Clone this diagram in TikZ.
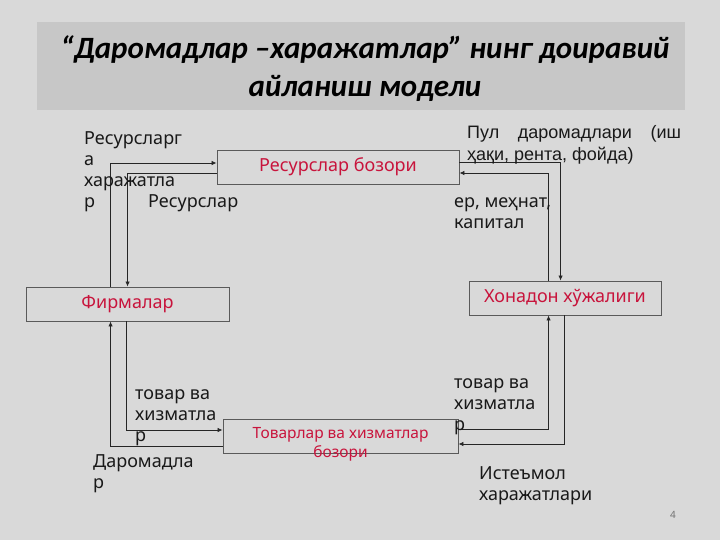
\documentclass[tikz,border=0pt]{standalone}
\usepackage{fontspec}
\setmainfont{Noto Sans}
\newfontfamily\titlefont{Carlito}
\newfontfamily\arialfont{Liberation Sans}
\usetikzlibrary{arrows.meta}
\definecolor{bg}{RGB}{217,217,217}
\definecolor{band}{RGB}{199,199,199}
\definecolor{boxline}{RGB}{90,90,90}
\definecolor{redtext}{RGB}{200,20,60}
\tikzset{
  box/.style={draw=boxline, line width=0.9pt, minimum height=34pt, inner sep=0pt,
    text=redtext, font=\fontsize{18}{21}\selectfont},
  lbl/.style={anchor=north west, inner sep=0pt, align=left, text=black!90,
    font=\fontsize{18}{21}\selectfont},
  conn/.style={draw=black!85, line width=0.8pt, -{Latex[length=5pt,width=4.5pt]}}
}
\begin{document}
\begin{tikzpicture}[x=1pt,y=-1pt]
\fill[bg] (0,0) rectangle (720,540);
\useasboundingbox (0,0) rectangle (720,540);
\fill[band] (37,22) rectangle (685,110);
\node[font=\titlefont\bfseries\itshape\fontsize{31}{38}\selectfont, align=center, inner sep=0pt] (title) at (365,69)
  {“Даромадлар –харажатлар” нинг доиравий\\айланиш модели};

% boxes
\node[box, minimum width=242pt] (rb) at (338,167) {Ресурслар бозори};
\node[box, minimum width=203pt] (firm) at (127.5,304) {Фирмалар};
\node[box, minimum width=192pt] (hh) at (565,298) {Хонадон хўжалиги};
\node[box, minimum width=235pt] (gm) at (340.5,436) {};
\node[inner sep=0pt, align=center, text=redtext, font=\fontsize{15.5}{19}\selectfont] (gmtext) at (340.5,444)
  {Товарлар ва хизматлар\\бозори};

% connectors
\draw[conn] ([xshift=85pt]firm.north west) |- ([yshift=4pt]rb.west);
\draw[conn] ([yshift=-6pt]rb.west) -| ([xshift=102pt]firm.north west);
\draw[conn] ([xshift=80pt]hh.north west) |- ([yshift=-6pt]rb.east);
\draw[conn] ([yshift=5pt]rb.east) -| ([xshift=92pt]hh.north west);
\draw[conn] ([xshift=101pt]firm.south west) |- ([yshift=6pt]gm.west);
\draw[conn] ([yshift=-10pt]gm.west) -| ([xshift=85pt]firm.south west);
\draw[conn] ([yshift=7pt]gm.east) -| ([xshift=80pt]hh.south west);
\draw[conn] ([xshift=96pt]hh.south west) |- ([yshift=-8pt]gm.east);

% labels
\node[lbl] (l1) at (84,129.3) {\strut Ресурсларг\\а\\харажатла\\р};
\node[lbl] (l2) at (148,192.3) {\strut Ресурслар};
\node[lbl, font=\arialfont\fontsize{18}{22}\selectfont] (l3) at (467,122.6)
  {\strut\hbox to 214pt{Пул\hfill даромадлари\hfill (иш}\\ҳақи, рента, фойда)};
\node[lbl] (l4) at (454,192.3) {\strut ер, меҳнат,\\капитал};
\node[lbl] (l5) at (135,384.3) {\strut товар ва\\хизматла\\р};
\node[lbl] (l6) at (93,452.3) {\strut Даромадла\\р};
\node[lbl] (l7) at (454,373.3) {\strut товар ва\\хизматла\\р};
\node[lbl] (l8) at (479,464.3) {\strut Истеъмол\\харажатлари};
\node[text=black!55, font=\fontsize{10}{12}\selectfont, inner sep=0pt] (pg) at (673,515) {4};
\end{tikzpicture}
\end{document}
